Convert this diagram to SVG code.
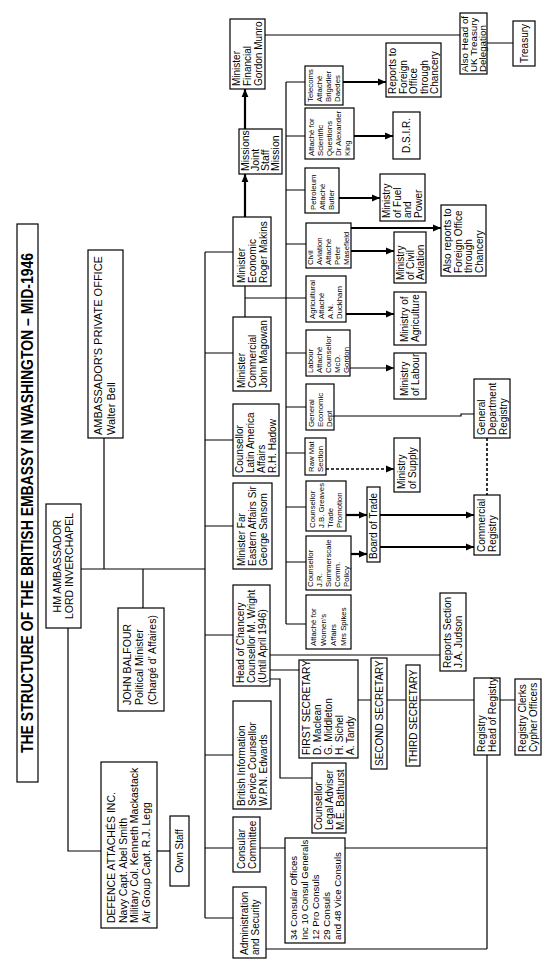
<svg xmlns="http://www.w3.org/2000/svg" width="545" height="974" viewBox="0 0 545 974">
<defs>
<style>
rect{fill:#fff;stroke:#000;stroke-width:1.2}
text{font-family:"Liberation Sans",Arial,sans-serif;font-size:10px;fill:#000}
.s{font-size:7.8px}
.m{font-size:10.5px}
.c{text-anchor:middle}
.ttl{font-size:16px;font-weight:bold;text-anchor:middle}
#connectors path{fill:none;stroke:#000;stroke-width:1.2}
#connectors path.k{stroke-width:2.2}
#connectors path.d{stroke-width:1.6;stroke-dasharray:3 2}
</style>
<marker id="ah" markerUnits="userSpaceOnUse" markerWidth="8" markerHeight="8" viewBox="0 0 8 8" refX="8" refY="4" orient="auto"><path d="M0,0.6 L8,4 L0,7.4 z" fill="#000"/></marker>
</defs>
<rect x="0" y="0" width="545" height="974" style="fill:#fff;stroke:none"/>

<g id="connectors">
<path d="M81,569 H205"/>
<path d="M104,438 V569"/>
<path d="M143,569 V608"/>
<path d="M68,628 V851 H101"/>
<path d="M157,851 H170"/>
<path d="M205,252 V918"/>
<path d="M205,252 H233 M205,353 H233 M205,440 H233 M205,526 H233 M205,635 H233 M205,755 H233 M205,848 H233 M205,918 H233"/>
<path d="M245,286 V317 M245,298 H306"/>
<path d="M286,82 V624"/>
<path d="M286,82 H305 M286,136 H305 M286,190 H305 M286,244 H306 M286,353 H306 M286,407 H306 M286,453 H305 M286,507 H306 M286,562 H306 M286,624 H306"/>
<path d="M270,655 H440 M270,670 H299 M270,679 H280 V778 H312"/>
<path d="M358,700 H371 M387,700 H406 M420,700 H474 M500,700 H515"/>
<path d="M487,755 V949 M266,949 H487 M260,848 H285 M345,848 H487"/>
<path d="M265,35 H460 M487,43 H513"/>
<path d="M334,416 H461 V414 H474"/>
<path class="k" d="M245,217 V174" marker-end="url(#ah)"/>
<path class="k" d="M245,129 V89" marker-end="url(#ah)"/>
<path class="k" d="M343,82 H386" marker-end="url(#ah)"/>
<path class="k" d="M354,136 H393" marker-end="url(#ah)"/>
<path class="k" d="M339,198 H380" marker-end="url(#ah)"/>
<path class="k" d="M351,228 H441" marker-end="url(#ah)"/>
<path class="k" d="M351,251 H394" marker-end="url(#ah)"/>
<path class="k" d="M346,314 H394" marker-end="url(#ah)"/>
<path d="M350,368 H394" marker-end="url(#ah)"/>
<path class="k" d="M346,515 H367" marker-end="url(#ah)"/>
<path class="k" d="M351,554 H367" marker-end="url(#ah)"/>
<path class="k" d="M380,515 H474" marker-end="url(#ah)"/>
<path class="k" d="M380,547 H474" marker-end="url(#ah)"/>
<path class="d" d="M326,469 H394" marker-end="url(#ah)"/>
<path class="d" d="M487,438 V495"/>
</g>

<g id="title"><rect x="17" y="224" width="21" height="558"/><text class="ttl" transform="translate(33.2,503) rotate(-90)" textLength="500" lengthAdjust="spacingAndGlyphs">THE STRUCTURE OF THE BRITISH EMBASSY IN WASHINGTON – MID-1946</text></g>

<g id="ambassador"><rect x="46" y="504" width="35" height="124"/><text class="m c" transform="translate(61,566) rotate(-90)"><tspan x="0" y="0">HM AMBASSADOR</tspan><tspan x="0" dy="11.7">LORD INVERCHAPEL</tspan></text></g>

<g id="private-office"><rect x="88" y="250" width="35" height="188"/><text transform="translate(102,435) rotate(-90)" style="font-size:11px"><tspan x="0" y="0">AMBASSADOR'S PRIVATE OFFICE</tspan><tspan x="0" dy="12.5">Walter Bell</tspan></text></g>

<g id="balfour"><rect x="118" y="608" width="46" height="103"/><text class="m" transform="translate(131,705) rotate(-90)"><tspan x="0" y="0">JOHN BALFOUR</tspan><tspan x="0" dy="12.3">Political Minister</tspan><tspan x="0" dy="12.3">(Chargé d' Affaires)</tspan></text></g>

<g id="defence"><rect x="101" y="762" width="56" height="166"/><text class="m" transform="translate(115,923) rotate(-90)"><tspan x="0" y="0">DEFENCE ATTACHÉS INC.</tspan><tspan x="0" dy="11.5">Navy Capt. Abel Smith</tspan><tspan x="0" dy="11.5">Military Col. Kenneth Mackastack</tspan><tspan x="0" dy="11.5">Air Group Capt. R.J. Legg</tspan></text></g>

<g id="own-staff"><rect x="170" y="816" width="19" height="70"/><text class="c" transform="translate(183.1,851) rotate(-90)">Own Staff</text></g>

<g id="financial"><rect x="230" y="19" width="35" height="70"/><text transform="translate(240.1,86) rotate(-90)"><tspan x="0" y="0">Minister</tspan><tspan x="0" dy="11">Financial</tspan><tspan x="0" dy="11">Gordon Munro</tspan></text></g>

<g id="missions"><rect x="239" y="129" width="43" height="45"/><text class="m" transform="translate(249.3,171) rotate(-90)"><tspan x="0" y="0">Missions</tspan><tspan x="0" dy="10">Joint</tspan><tspan x="0" dy="10">Staff</tspan><tspan x="0" dy="10">Mission</tspan></text></g>

<g id="economic"><rect x="233" y="217" width="38" height="69"/><text transform="translate(244.6,283) rotate(-90)"><tspan x="0" y="0">Minister</tspan><tspan x="0" dy="11">Economic</tspan><tspan x="0" dy="11">Roger Makins</tspan></text></g>

<g id="commercial"><rect x="233" y="317" width="38" height="74"/><text transform="translate(244.6,388) rotate(-90)"><tspan x="0" y="0">Minister</tspan><tspan x="0" dy="11">Commercial</tspan><tspan x="0" dy="11">John Magowan</tspan></text></g>

<g id="latin-america"><rect x="233" y="404" width="46" height="72"/><text transform="translate(243.1,473) rotate(-90)"><tspan x="0" y="0">Counsellor</tspan><tspan x="0" dy="11">Latin America</tspan><tspan x="0" dy="11">Affairs</tspan><tspan x="0" dy="11">R.H. Hadow</tspan></text></g>

<g id="far-east"><rect x="233" y="483" width="39" height="86"/><text transform="translate(245.1,566) rotate(-90)"><tspan x="0" y="0">Minister Far</tspan><tspan x="0" dy="11">Eastern Affairs Sir</tspan><tspan x="0" dy="11">George Sansom</tspan></text></g>

<g id="chancery"><rect x="233" y="585" width="37" height="101"/><text transform="translate(244.1,683) rotate(-90)"><tspan x="0" y="0">Head of Chancery</tspan><tspan x="0" dy="11">Counsellor M. Wright</tspan><tspan x="0" dy="11">(Until April 1946)</tspan></text></g>

<g id="bis"><rect x="233" y="701" width="38" height="108"/><text transform="translate(244.6,806) rotate(-90)"><tspan x="0" y="0">British Information</tspan><tspan x="0" dy="11">Service Counsellor</tspan><tspan x="0" dy="11">W.P.N. Edwards</tspan></text></g>

<g id="consular-committee"><rect x="233" y="817" width="27" height="55"/><text transform="translate(244.6,869) rotate(-90)"><tspan x="0" y="0">Consular</tspan><tspan x="0" dy="11">Committee</tspan></text></g>

<g id="administration"><rect x="233" y="887" width="33" height="71"/><text transform="translate(247.6,955) rotate(-90)"><tspan x="0" y="0">Administration</tspan><tspan x="0" dy="11">and Security</tspan></text></g>

<g id="telecoms"><rect x="305" y="66" width="38" height="39"/><text class="s" transform="translate(313.3,102) rotate(-90)"><tspan x="0" y="0">Telecoms</tspan><tspan x="0" dy="9">Attaché</tspan><tspan x="0" dy="9">Brigadier</tspan><tspan x="0" dy="9">Daedes</tspan></text></g>

<g id="scientific"><rect x="305" y="108" width="49" height="51"/><text class="s" transform="translate(314.3,156) rotate(-90)"><tspan x="0" y="0">Attaché for</tspan><tspan x="0" dy="9">Scientific</tspan><tspan x="0" dy="9">Questions</tspan><tspan x="0" dy="9">Dr Alexander</tspan><tspan x="0" dy="9">King</tspan></text></g>

<g id="petroleum"><rect x="305" y="168" width="34" height="45"/><text class="s" transform="translate(315.8,210) rotate(-90)"><tspan x="0" y="0">Petroleum</tspan><tspan x="0" dy="9">Attaché</tspan><tspan x="0" dy="9">Butler</tspan></text></g>

<g id="civil-aviation"><rect x="306" y="223" width="45" height="45"/><text class="s" transform="translate(313.3,265) rotate(-90)"><tspan x="0" y="0">Civil</tspan><tspan x="0" dy="9">Aviation</tspan><tspan x="0" dy="9">Attaché</tspan><tspan x="0" dy="9">Peter</tspan><tspan x="0" dy="9">Masefield</tspan></text></g>

<g id="agricultural"><rect x="306" y="276" width="40" height="46"/><text class="s" transform="translate(315.3,319) rotate(-90)"><tspan x="0" y="0">Agricultural</tspan><tspan x="0" dy="9">Attaché</tspan><tspan x="0" dy="9">A.N.</tspan><tspan x="0" dy="9">Duckham</tspan></text></g>

<g id="labour"><rect x="306" y="330" width="44" height="46"/><text class="s" transform="translate(312.8,373) rotate(-90)"><tspan x="0" y="0">Labour</tspan><tspan x="0" dy="9">Attaché</tspan><tspan x="0" dy="9">Counsellor</tspan><tspan x="0" dy="9">McD.</tspan><tspan x="0" dy="9">Gordon</tspan></text></g>

<g id="general-economic"><rect x="306" y="384" width="28" height="46"/><text class="s" transform="translate(313.8,427) rotate(-90)"><tspan x="0" y="0">General</tspan><tspan x="0" dy="9">Economic</tspan><tspan x="0" dy="9">Dept</tspan></text></g>

<g id="raw-mat"><rect x="305" y="438" width="21" height="37"/><text class="s" transform="translate(313.8,472) rotate(-90)"><tspan x="0" y="0">Raw Mat</tspan><tspan x="0" dy="9">Section</tspan></text></g>

<g id="greaves"><rect x="306" y="481" width="40" height="50"/><text class="s" transform="translate(315.3,528) rotate(-90)"><tspan x="0" y="0">Counsellor</tspan><tspan x="0" dy="9">J.B. Greaves</tspan><tspan x="0" dy="9">Trade</tspan><tspan x="0" dy="9">Promotion</tspan></text></g>

<g id="summerscale"><rect x="306" y="536" width="45" height="54"/><text class="s" transform="translate(313.3,587) rotate(-90)"><tspan x="0" y="0">Counsellor</tspan><tspan x="0" dy="9">J.R.</tspan><tspan x="0" dy="9">Summerscale</tspan><tspan x="0" dy="9">Comm.</tspan><tspan x="0" dy="9">Policy</tspan></text></g>

<g id="womens-affairs"><rect x="306" y="595" width="45" height="54"/><text class="s" transform="translate(316.3,646) rotate(-90)"><tspan x="0" y="0">Attaché for</tspan><tspan x="0" dy="10">Women's</tspan><tspan x="0" dy="10">Affairs</tspan><tspan x="0" dy="10">Mrs Spikes</tspan></text></g>

<g id="first-secretary"><rect x="299" y="660" width="59" height="98"/><text transform="translate(310.1,755) rotate(-90)"><tspan x="0" y="0" style="font-size:10.4px">FIRST SECRETARY</tspan><tspan x="0" dy="11">D. Maclean</tspan><tspan x="0" dy="11">G. Middleton</tspan><tspan x="0" dy="11">H. Sichel</tspan><tspan x="0" dy="11">A. Tandy</tspan></text></g>

<g id="legal-adviser"><rect x="312" y="763" width="34" height="70"/><text transform="translate(321.6,830) rotate(-90)"><tspan x="0" y="0">Counsellor</tspan><tspan x="0" dy="11">Legal Adviser</tspan><tspan x="0" dy="11">M.E. Bathurst</tspan></text></g>

<g id="consular-offices"><rect x="285" y="838" width="60" height="105"/><text transform="translate(296.5,940) rotate(-90)" style="font-size:9.6px"><tspan x="0" y="0">34 Consular Offices</tspan><tspan x="0" dy="11">Inc 10 Consul Generals</tspan><tspan x="0" dy="11">12 Pro Consuls</tspan><tspan x="0" dy="11">29 Consuls</tspan><tspan x="0" dy="11">and 48 Vice Consuls</tspan></text></g>

<g id="second-secretary"><rect x="371" y="658" width="16" height="111"/><text transform="translate(382.6,766) rotate(-90)">SECOND SECRETARY</text></g>

<g id="third-secretary"><rect x="406" y="665" width="14" height="101"/><text transform="translate(416.6,763) rotate(-90)">THIRD SECRETARY</text></g>

<g id="reports-section"><rect x="440" y="593" width="26" height="78"/><text transform="translate(451.1,668) rotate(-90)"><tspan x="0" y="0">Reports Section</tspan><tspan x="0" dy="11">J.A. Judson</tspan></text></g>

<g id="registry"><rect x="474" y="678" width="26" height="77"/><text transform="translate(485.1,752) rotate(-90)"><tspan x="0" y="0">Registry</tspan><tspan x="0" dy="11">Head of Registry</tspan></text></g>

<g id="registry-clerks"><rect x="515" y="679" width="26" height="76"/><text transform="translate(526.1,752) rotate(-90)"><tspan x="0" y="0">Registry Clerks</tspan><tspan x="0" dy="11">Cypher Officers</tspan></text></g>

<g id="board-of-trade"><rect x="367" y="487" width="13" height="75"/><text transform="translate(377.1,559) rotate(-90)">Board of Trade</text></g>

<g id="commercial-registry"><rect x="474" y="495" width="26" height="60"/><text transform="translate(485.1,552) rotate(-90)"><tspan x="0" y="0">Commercial</tspan><tspan x="0" dy="11">Registry</tspan></text></g>

<g id="ministry-supply"><rect x="394" y="438" width="26" height="54"/><text transform="translate(405.1,489) rotate(-90)"><tspan x="0" y="0">Ministry</tspan><tspan x="0" dy="11">of Supply</tspan></text></g>

<g id="general-department-registry"><rect x="474" y="379" width="36" height="59"/><text transform="translate(484.6,435) rotate(-90)"><tspan x="0" y="0">General</tspan><tspan x="0" dy="11">Department</tspan><tspan x="0" dy="11">Registry</tspan></text></g>

<g id="ministry-labour"><rect x="394" y="353" width="32" height="46"/><text transform="translate(408.1,396) rotate(-90)"><tspan x="0" y="0">Ministry</tspan><tspan x="0" dy="11">of Labour</tspan></text></g>

<g id="ministry-agriculture"><rect x="394" y="292" width="32" height="53"/><text transform="translate(408.1,342) rotate(-90)"><tspan x="0" y="0">Ministry of</tspan><tspan x="0" dy="11">Agriculture</tspan></text></g>

<g id="ministry-civil-aviation"><rect x="394" y="232" width="32" height="51"/><text transform="translate(403.6,280) rotate(-90)"><tspan x="0" y="0">Ministry</tspan><tspan x="0" dy="10">of Civil</tspan><tspan x="0" dy="10">Aviation</tspan></text></g>

<g id="also-reports"><rect x="441" y="205" width="45" height="71"/><text transform="translate(451.4,273) rotate(-90)"><tspan x="0" y="0">Also reports to</tspan><tspan x="0" dy="10.5">Foreign Office</tspan><tspan x="0" dy="10.5">through</tspan><tspan x="0" dy="10.5">Chancery</tspan></text></g>

<g id="ministry-fuel"><rect x="380" y="174" width="45" height="47"/><text transform="translate(390.4,218) rotate(-90)"><tspan x="0" y="0">Ministry</tspan><tspan x="0" dy="10.5">of Fuel</tspan><tspan x="0" dy="10.5">and</tspan><tspan x="0" dy="10.5">Power</tspan></text></g>

<g id="dsir"><rect x="393" y="112" width="27" height="47"/><text class="c" transform="translate(410.1,135.5) rotate(-90)">D.S.I.R.</text></g>

<g id="reports-fo"><rect x="386" y="43" width="55" height="54"/><text transform="translate(396.1,94) rotate(-90)"><tspan x="0" y="0">Reports to</tspan><tspan x="0" dy="10.5">Foreign</tspan><tspan x="0" dy="10.5">Office</tspan><tspan x="0" dy="10.5">through</tspan><tspan x="0" dy="10.5">Chancery</tspan></text></g>

<g id="treasury-delegation"><rect x="460" y="13" width="27" height="61"/><text transform="translate(468.2,72) rotate(-90)" style="font-size:9.8px"><tspan x="0" y="0">Also Head of</tspan><tspan x="0" dy="8.8">UK Treasury</tspan><tspan x="0" dy="8.8">Delegation</tspan></text></g>

<g id="treasury"><rect x="513" y="21" width="22" height="45"/><text class="c" transform="translate(527.6,43.5) rotate(-90)">Treasury</text></g>
</svg>
